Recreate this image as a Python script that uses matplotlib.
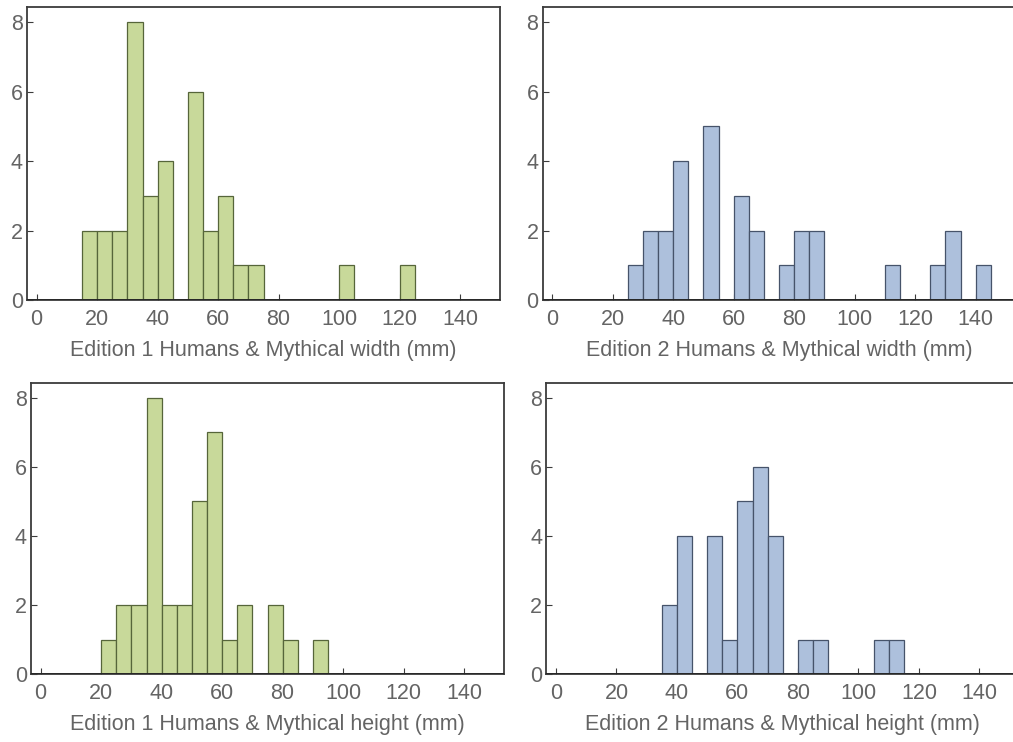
import matplotlib
matplotlib.use("Agg")
import matplotlib.pyplot as plt

plt.rcParams["font.family"] = ["Liberation Sans", "DejaVu Sans"]

BIN_WIDTH = 5

# Edition 1 width histogram (bin left edge in mm, count)
e1_width_bins = [15, 20, 25, 30, 35, 40, 50, 55, 60, 65, 70, 100, 120]
e1_width_counts = [2, 2, 2, 8, 3, 4, 6, 2, 3, 1, 1, 1, 1]

# Edition 2 width histogram
e2_width_bins = [25, 30, 35, 40, 50, 60, 65, 75, 80, 85, 110, 125, 130, 140]
e2_width_counts = [1, 2, 2, 4, 5, 3, 2, 1, 2, 2, 1, 1, 2, 1]

# Edition 1 height histogram
e1_height_bins = [20, 25, 30, 35, 40, 45, 50, 55, 60, 65, 75, 80, 90]
e1_height_counts = [1, 2, 2, 8, 2, 2, 5, 7, 1, 2, 2, 1, 1]

# Edition 2 height histogram
e2_height_bins = [35, 40, 50, 55, 60, 65, 70, 80, 85, 105, 110]
e2_height_counts = [2, 4, 4, 1, 5, 6, 4, 1, 1, 1, 1]

x_ticks = [0, 20, 40, 60, 80, 100, 120, 140]
y_ticks = [0, 2, 4, 6, 8]

titles = [
    "Edition 1 Humans & Mythical width (mm)",
    "Edition 2 Humans & Mythical width (mm)",
    "Edition 1 Humans & Mythical height (mm)",
    "Edition 2 Humans & Mythical height (mm)",
]

GREEN_FILL = "#c8d99a"
GREEN_EDGE = "#56653a"
BLUE_FILL = "#adc0dc"
BLUE_EDGE = "#46536a"
TEXT = "#646464"
FRAME = "#3c3c3c"
FONT_SIZE = 15.5

W, H = 1013, 742
fig = plt.figure(figsize=(W / 100, H / 100), dpi=100)


def make_axes(left_px, top_px, right_px, bottom_px):
    return fig.add_axes([left_px / W, 1 - bottom_px / H,
                         (right_px - left_px) / W, (bottom_px - top_px) / H])


panels = [
    (make_axes(27, 7.3, 500, 300), e1_width_bins, e1_width_counts, GREEN_FILL, GREEN_EDGE),
    (make_axes(542.6, 7.3, 1015.6, 300), e2_width_bins, e2_width_counts, BLUE_FILL, BLUE_EDGE),
    (make_axes(31, 382.7, 504, 674.3), e1_height_bins, e1_height_counts, GREEN_FILL, GREEN_EDGE),
    (make_axes(546.3, 382.7, 1019.3, 674.3), e2_height_bins, e2_height_counts, BLUE_FILL, BLUE_EDGE),
]

for (ax, bins, counts, fill, edge), title in zip(panels, titles):
    ax.bar(bins, counts, width=BIN_WIDTH, align="edge", color=fill,
           edgecolor=edge, linewidth=0.9, zorder=2)
    ax.set_xlim(-3.2, 153.2)
    ax.set_ylim(0, 8.43)
    ax.set_xticks(x_ticks)
    ax.set_yticks(y_ticks)
    ax.tick_params(direction="in", length=4, width=0.8, colors=FRAME,
                   labelcolor=TEXT, labelsize=FONT_SIZE)
    ax.tick_params(axis="x", pad=6.5)
    ax.tick_params(axis="y", pad=3)
    for s in ax.spines.values():
        s.set_color(FRAME)
        s.set_linewidth(1.3)
    ax.axhline(0, color="#222222", linewidth=1.2, zorder=3)
    ax.set_xlabel(title, fontsize=FONT_SIZE, color=TEXT, labelpad=7)

fig.savefig("out.png", dpi=100)
